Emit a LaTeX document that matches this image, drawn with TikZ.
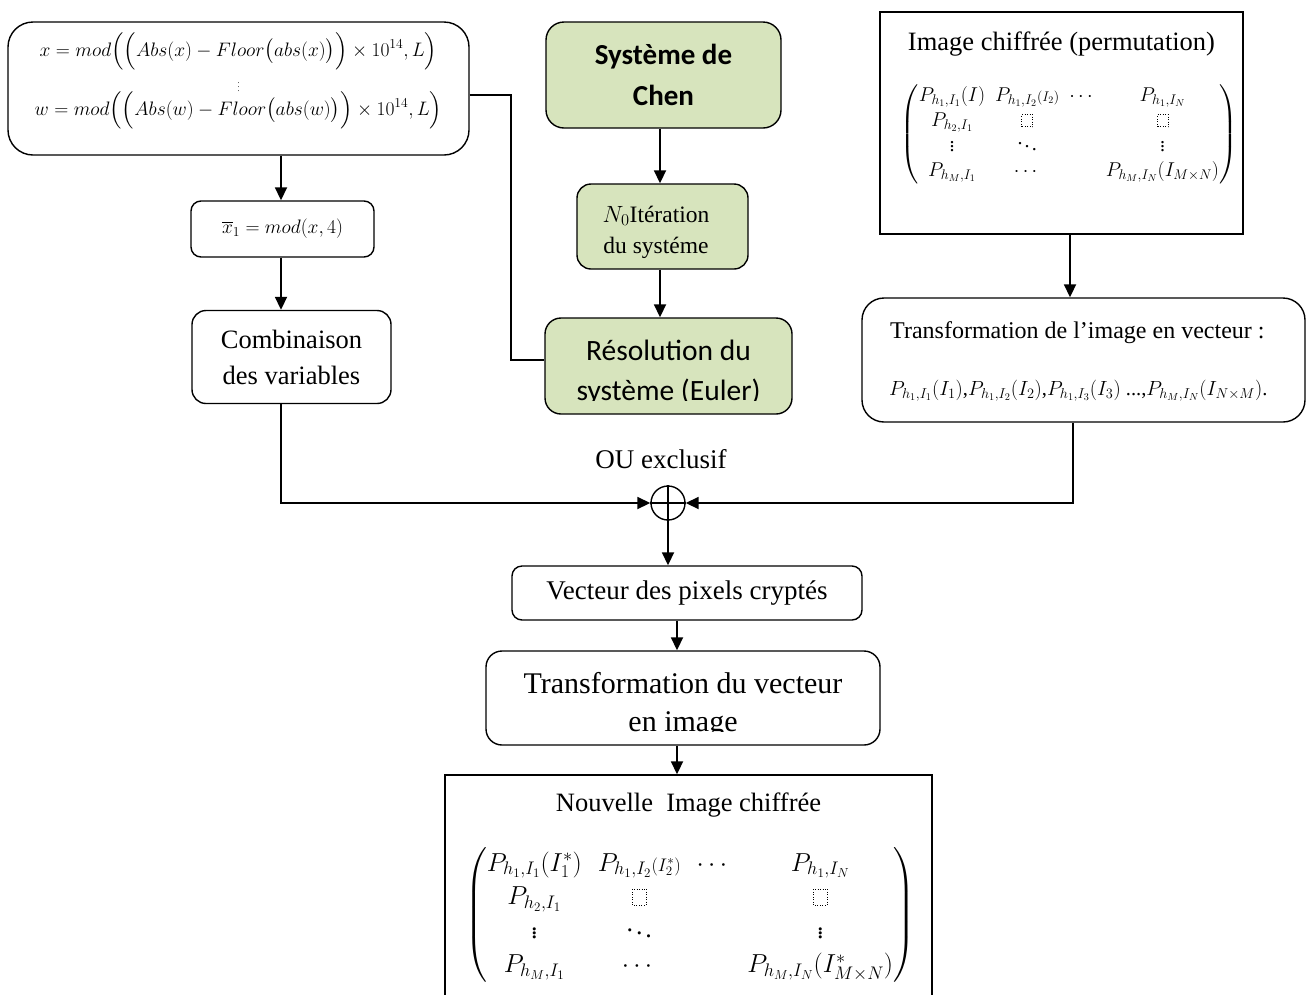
\RequirePackage{fix-cm}
\documentclass[tikz,border=0pt]{standalone}
\usepackage{amsmath}
\usepackage{fontspec}
\setmainfont{Liberation Serif}
\newfontfamily\calibri{Carlito}
\usetikzlibrary{arrows.meta}
\definecolor{chengreen}{HTML}{D7E4BD}
\newcommand{\dsq}{\tikz[baseline=0pt]\draw[dotted,line width=0.5pt] (0,0) rectangle (0.55em,0.6em);}
\newcommand{\fsz}[1]{\fontsize{#1}{1.25\dimexpr#1pt\relax}\selectfont}
\begin{document}
\begin{tikzpicture}[x=1pt,y=-1pt,
  box/.style={draw,line width=1.4pt,align=center,inner sep=0pt},
  rbox/.style={box,rounded corners=#1},
  rbox/.default=14pt,
  gbox/.style={rbox=#1,fill=chengreen},
  gbox/.default=16pt,
  arr/.style={-{Triangle[length=13pt,width=12pt]},line width=1.8pt},
  plain/.style={line width=1.4pt},
  txt/.style={inner sep=0pt,anchor=base,align=center}]
\useasboundingbox (0,0) rectangle (1306,994);
\clip (0,0) rectangle (1306,994);

% ---- left column
\node[rbox=25pt,minimum width=461pt,minimum height=133pt] (eq) at (238.5,88.5) {};
\node[txt,font=\fsz{19.5}] (eq1) at (238.5,56) {$x = mod\Bigl(\Bigl(Abs(x) - Floor\bigl(abs(x)\bigr)\Bigr)\times 10^{14}, L\Bigr)$};
\node[txt,font=\fsz{8}] (eqd) at (238.5,91) {$\vdots$};
\node[txt,font=\fsz{19.5}] (eq2) at (238.5,115) {$w = mod\Bigl(\Bigl(Abs(w) - Floor\bigl(abs(w)\bigr)\Bigr)\times 10^{14}, L\Bigr)$};

\node[rbox=10pt,minimum width=183pt,minimum height=56pt,font=\fsz{19.5}] (xb) at (282.5,229) {$\overline{x}_1 = mod(x,4)$};

\node[rbox=14pt,minimum width=199pt,minimum height=93pt,font=\fontsize{26.5}{36}\selectfont] (comb) at (291.5,357) {Combinaison\\des variables};

% ---- middle column (green)
\node[gbox=18pt,minimum width=235pt,minimum height=106pt,font=\calibri\bfseries\fontsize{29}{41}\selectfont] (chen) at (663.5,75) {Système de\\Chen};
\node[gbox=14pt,minimum width=171pt,minimum height=85pt] (n0) at (662.5,226.5) {};
\node[txt,font=\fsz{23.5}] (n01) at (656,222) {$N_0$Itération};
\node[txt,font=\fsz{23.5}] (n02) at (656,253) {du systéme};
\node[gbox=16pt,minimum width=247pt,minimum height=96pt] (res) at (668.5,366) {};
\begin{scope}
  \clip (545,318) rectangle (792,400.5);
  \node[txt,font=\calibri\fontsize{29.5}{40}\selectfont] (res1) at (668.5,360) {Résolution du};
  \node[txt,font=\calibri\fontsize{29.5}{40}\selectfont] (res2) at (668.5,400) {système (Euler)};
\end{scope}

% ---- right column
\node[box,minimum width=363pt,minimum height=222pt] (img) at (1061.5,123) {};
\node[txt,font=\fsz{26.5}] (imgt) at (1061.5,50) {Image chiffrée (permutation)};
\node[inner sep=0pt,font=\fsz{20}] (imgm) at (1069,134) {$\left(\renewcommand{\arraystretch}{1.0}\setlength{\arraycolsep}{5pt}\begin{matrix}
P_{h_1,I_1}(I) & P_{h_1,I_2}{\scriptstyle(I_2)} & \cdots & P_{h_1,I_N}\\
P_{h_2,I_1} & \dsq & & \dsq\\
\vdots & \ddots & & \vdots\\
P_{h_M,I_1} & \cdots & & P_{h_M,I_N}(I_{M\times N})
\end{matrix}\right)$};

\node[rbox=22pt,minimum width=443pt,minimum height=124pt] (ti) at (1083.5,360) {};
\node[txt,font=\fsz{24},anchor=base west] (tit) at (890,338) {Transformation de l’image en vecteur :};
\node[txt,font=\fsz{20.5},anchor=base west] (tif) at (889,395) {$P_{h_1,I_1}(I_1)$,$P_{h_1,I_2}(I_2)$,$P_{h_1,I_3}(I_3)$ ...,$P_{h_M,I_N}(I_{N\times M})$.};

% ---- XOR
\node[draw,circle,line width=1.4pt,minimum size=34pt,inner sep=0pt] (xor) at (668,503) {};
\draw[line width=1.4pt] (xor.north) -- (xor.south) (xor.west) -- (xor.east);
\node[txt,font=\fsz{27}] (xorl) at (661,468) {OU exclusif};

% ---- bottom column
\node[rbox=10pt,minimum width=350pt,minimum height=54pt,font=\fsz{27}] (vect) at (687,593) {Vecteur des pixels cryptés};
\node[rbox=16pt,minimum width=394pt,minimum height=94pt] (tv) at (683,698) {};
\begin{scope}
  \clip (486,651) rectangle (880,731);
  \node[txt,font=\fontsize{30}{38}\selectfont] (tv1) at (683,693) {Transformation du vecteur};
  \node[txt,font=\fontsize{30}{38}\selectfont] (tv2) at (683,731) {en image};
\end{scope}

\node[box,minimum width=487pt,minimum height=265pt] (nouv) at (688.5,907.5) {};
\node[txt,font=\fsz{26.5}] (nouvt) at (688.5,811) {Nouvelle\ \ Image chiffrée};
\node[inner sep=0pt,font=\fsz{26}] (nouvm) at (690,915) {$\left(\renewcommand{\arraystretch}{1.04}\setlength{\arraycolsep}{8pt}\begin{matrix}
P_{h_1,I_1}(I_1^{*}) & P_{h_1,I_2}{\scriptstyle(I_2^{*})} & \cdots & P_{h_1,I_N}\\
P_{h_2,I_1} & \dsq & & \dsq\\
\vdots & \ddots & & \vdots\\
P_{h_M,I_1} & \cdots & & P_{h_M,I_N}(I^{*}_{M\times N})
\end{matrix}\right)$};

% ---- connectors
\draw[arr] (eq.south -| xb.north) ++(-1.5,0) coordinate (a1) -- (a1 |- xb.north);
\draw[arr] ([xshift=-1.5pt]xb.south) coordinate (a2) -- (a2 |- comb.north);
\coordinate (k1) at (511,95);
\coordinate (k2) at (511,360);
\draw[plain] (eq.east |- k1) -- (k1) -- (k2) -- (res.west |- k2);
\draw[arr] ([xshift=-3.5pt]chen.south) coordinate (a3) -- (a3 |- n0.north);
\draw[arr] ([xshift=-2.5pt]n0.south) coordinate (a4) -- (a4 |- res.north);
\draw[arr] ([xshift=8.5pt]img.south) coordinate (a5) -- (a5 |- ti.north);
\draw[arr] ([xshift=-10.5pt]comb.south) |- (xor.west);
\draw[arr] ([xshift=-10.5pt]ti.south) |- (xor.east);
\draw[arr] (xor.south) -- (xor.south |- vect.north);
\draw[arr] ([xshift=-10pt]vect.south) coordinate (a6) -- (a6 |- tv.north);
\draw[arr] ([xshift=-6pt]tv.south) coordinate (a7) -- (a7 |- nouv.north);
\end{tikzpicture}
\end{document}
